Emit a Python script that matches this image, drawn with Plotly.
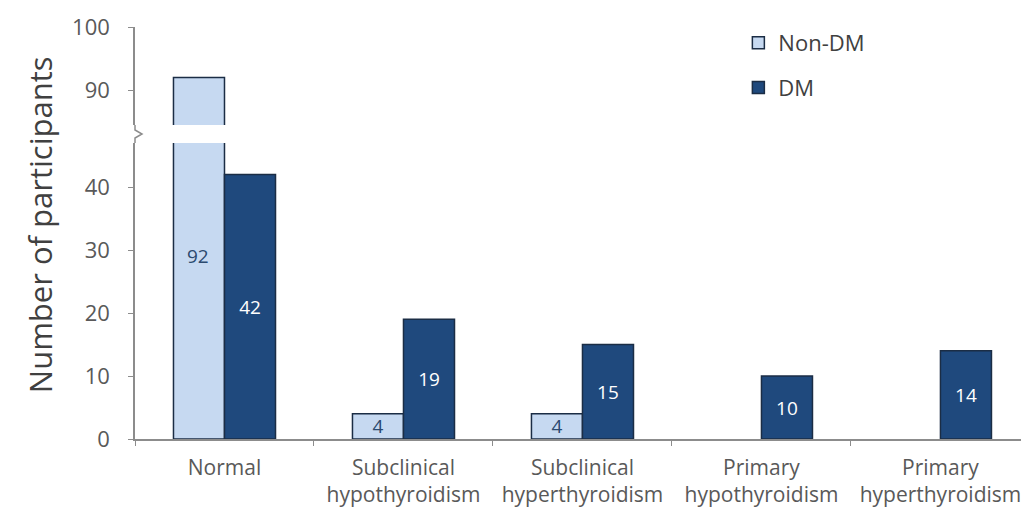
import plotly.graph_objects as go

categories = ["Normal", "Subclinical<br>hypothyroidism", "Subclinical<br>hyperthyroidism",
              "Primary<br>hypothyroidism", "Primary<br>hyperthyroidism"]
non_dm = [92, 4, 4, 0, 0]
dm = [42, 19, 15, 10, 14]
lower_ticks = [0, 10, 20, 30, 40]
upper_ticks = [90, 100]

LIGHT = "#C6D9F1"
DARK = "#1F497D"
EDGE = "#1B2D45"
GRAY = "#595959"
AX = "#8C8C8C"
FONT = "Open Sans"

BW = 0.285

low_top_px = 143
up_bot_px = 125
H = 412
bottom_px = 439
low_max = (bottom_px - low_top_px) / 6.3


def lbl(vals, cap=None):
    return [str(v) if v and (cap is None or v < cap) else "" for v in vals]


def lw(vals):
    return [1.5 if v else 0 for v in vals]


fig = go.Figure()
fig.add_trace(go.Bar(x=categories, y=non_dm, name="Non-DM", width=BW, offset=-BW,
                     marker=dict(color=LIGHT, line=dict(color=EDGE, width=lw(non_dm))),
                     text=lbl(non_dm, low_max), textposition="inside", insidetextanchor="middle",
                     textangle=0,
                     textfont=dict(color="#2B4A6F", size=19, family=FONT),
                     constraintext="none", legendgroup="a", xaxis="x", yaxis="y"))
fig.add_trace(go.Bar(x=categories, y=dm, name="DM", width=BW, offset=0,
                     marker=dict(color=DARK, line=dict(color=EDGE, width=lw(dm))),
                     text=lbl(dm), textposition="inside", insidetextanchor="middle",
                     textangle=0,
                     textfont=dict(color="white", size=19, family=FONT),
                     constraintext="none", legendgroup="b", xaxis="x", yaxis="y"))
fig.add_trace(go.Bar(x=categories, y=non_dm, name="Non-DM", width=BW, offset=-BW,
                     marker=dict(color=LIGHT, line=dict(color=EDGE, width=lw(non_dm))),
                     showlegend=False, hoverinfo="skip", xaxis="x", yaxis="y2"))

fig.update_layout(
    width=1021, height=513,
    margin=dict(l=135, r=0, t=27, b=74),
    paper_bgcolor="white", plot_bgcolor="white",
    font=dict(family=FONT, color=GRAY),
    showlegend=True,
    legend=dict(x=0.681, y=1.012, xanchor="left", yanchor="top",
                font=dict(size=22, color="#404040", family=FONT),
                traceorder="grouped", tracegroupgap=13,
                bgcolor="rgba(0,0,0,0)", itemwidth=30),
    xaxis=dict(range=[-0.5, 4.45], showline=True, linecolor=AX, linewidth=1.5,
               ticks="outside", tickson="boundaries", ticklen=5, tickcolor=AX,
               tickfont=dict(size=21, color=GRAY, family=FONT), anchor="y",
               showgrid=False, zeroline=False, ticklabelstandoff=9),
    yaxis=dict(domain=[0, (bottom_px - low_top_px) / H], range=[0, low_max],
               tickvals=lower_ticks, showline=True, linecolor=AX, linewidth=1.5,
               ticks="outside", ticklen=5, tickcolor=AX, showgrid=False, zeroline=False,
               tickfont=dict(size=22, color=GRAY, family=FONT), ticklabelstandoff=14),
    yaxis2=dict(domain=[(bottom_px - up_bot_px) / H, 1],
                range=[100 - (up_bot_px - 27) / 6.3, 100],
                tickvals=upper_ticks, showline=True, linecolor=AX, linewidth=1.5,
                ticks="outside", ticklen=5, tickcolor=AX, showgrid=False, zeroline=False,
                tickfont=dict(size=22, color=GRAY, family=FONT), anchor="x",
                ticklabelstandoff=14),
    bargap=0.42,
)

mid = (bottom_px - (low_top_px + up_bot_px) / 2) / H
fig.add_shape(type="path", xref="paper", yref="paper", xsizemode="pixel", ysizemode="pixel",
              xanchor=0, yanchor=mid,
              path="M0,9 L0,4 L7,0 L0,-4 L0,-9", line=dict(color=AX, width=1.5))

# label for the broken (off-scale) bar
fig.add_annotation(text=str(non_dm[0]), x=categories[0], y=29, xref="x", yref="y",
                   xshift=-26, showarrow=False,
                   font=dict(color="#2B4A6F", size=19, family=FONT))

fig.add_annotation(text="Number of participants", xref="paper", yref="paper",
                   x=-0.107, y=(bottom_px - 225) / H, textangle=-90, showarrow=False,
                   font=dict(size=31, color="#404040", family=FONT),
                   xanchor="center", yanchor="middle")

fig.write_html("out.html")
